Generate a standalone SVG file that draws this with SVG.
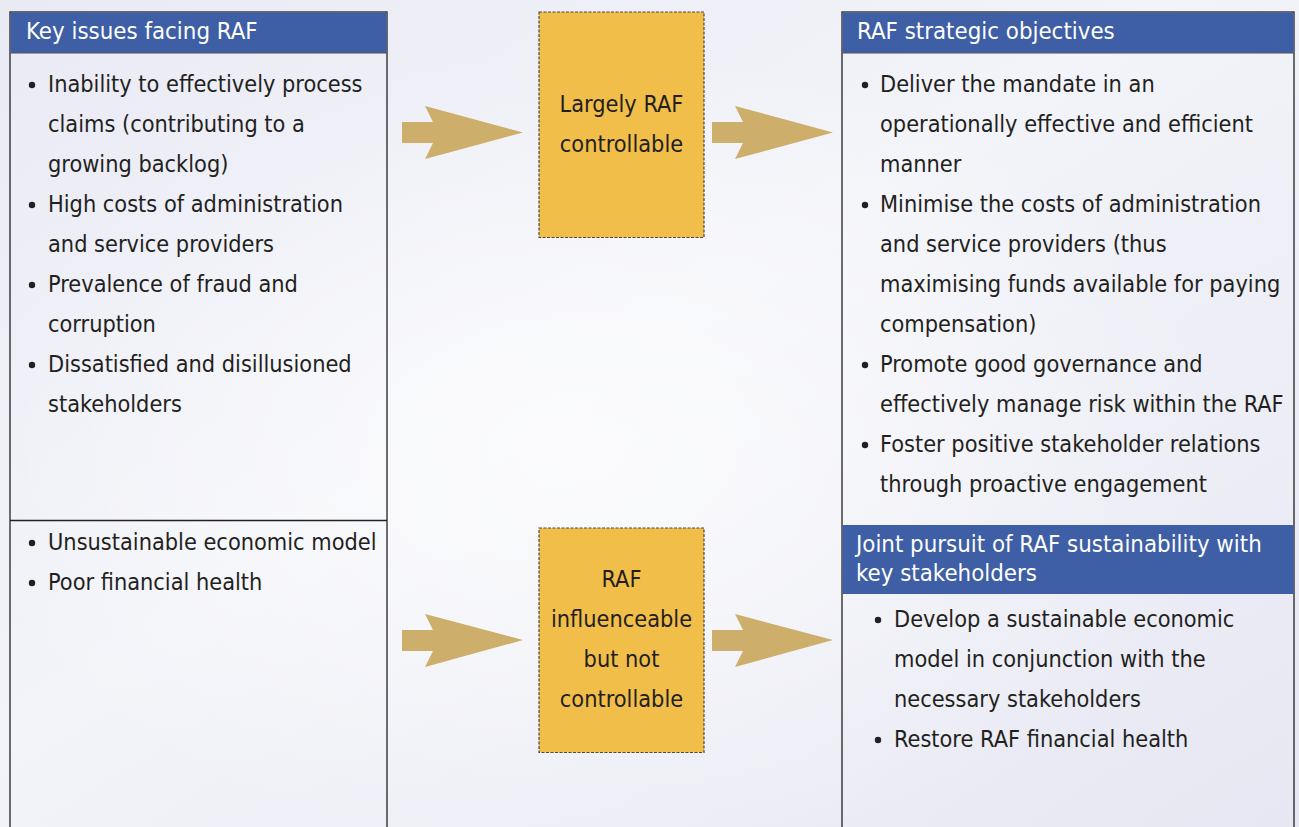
<svg xmlns="http://www.w3.org/2000/svg" width="1299" height="827" viewBox="0 0 1299 827">
  <defs>
    <linearGradient id="bg" x1="0" y1="0" x2="1" y2="1">
      <stop offset="0" stop-color="#e9eaf4"/>
      <stop offset="0.45" stop-color="#f3f4f9"/>
      <stop offset="1" stop-color="#e6e7f2"/>
    </linearGradient>
    <radialGradient id="haze" cx="0.45" cy="0.55" r="0.5">
      <stop offset="0" stop-color="#ffffff" stop-opacity="0.7"/>
      <stop offset="1" stop-color="#ffffff" stop-opacity="0"/>
    </radialGradient>
    <style>
      .txt { font-family: "DejaVu Sans Condensed", "DejaVu Sans", sans-serif; font-stretch: condensed; font-size: 23.3px; fill: #231f20; }
      .hdr { font-family: "DejaVu Sans Condensed", "DejaVu Sans", sans-serif; font-stretch: condensed; font-size: 23.8px; fill: #ffffff; }
      .mid { text-anchor: middle; }
      .panel { fill: none; stroke: #222; stroke-width: 1.3; }
      .band { fill: #3e5ea6; }
      .gate { fill: #f1be4a; stroke: #4a4a4a; stroke-width: 1.2; stroke-dasharray: 3 1.5; }
      .arrow { fill: #cdae6a; }
      .dot { fill: #231f20; }
    </style>
  </defs>

  <!-- backdrop -->
  <rect width="1299" height="827" fill="url(#bg)"/>
  <rect width="1299" height="827" fill="url(#haze)"/>

  <!-- left panel: key issues -->
  <g id="issues">
    <rect x="10" y="12" width="377" height="830" class="panel"/>
    <rect x="10.5" y="12.5" width="376" height="40.5" class="band"/>
    <line x1="10" y1="53" x2="387" y2="53" stroke="#555" stroke-width="1.2"/>
    <text x="26" y="39" class="hdr">Key issues facing RAF</text>
    <circle cx="32" cy="85" r="3.2" class="dot"/>
    <text x="48" y="92" class="txt">Inability to effectively process</text>
    <text x="48" y="132" class="txt">claims (contributing to a</text>
    <text x="48" y="172" class="txt">growing backlog)</text>
    <circle cx="32" cy="205" r="3.2" class="dot"/>
    <text x="48" y="212" class="txt">High costs of administration</text>
    <text x="48" y="252" class="txt">and service providers</text>
    <circle cx="32" cy="285" r="3.2" class="dot"/>
    <text x="48" y="292" class="txt">Prevalence of fraud and</text>
    <text x="48" y="332" class="txt">corruption</text>
    <circle cx="32" cy="365" r="3.2" class="dot"/>
    <text x="48" y="372" class="txt">Dissatisfied and disillusioned</text>
    <text x="48" y="412" class="txt">stakeholders</text>
    <line x1="10" y1="520.5" x2="387" y2="520.5" stroke="#222" stroke-width="1.4"/>
    <circle cx="32" cy="543" r="3.2" class="dot"/>
    <text x="48" y="550" class="txt">Unsustainable economic model</text>
    <circle cx="32" cy="583" r="3.2" class="dot"/>
    <text x="48" y="590" class="txt">Poor financial health</text>
  </g>

  <!-- middle: controllability gates -->
  <g id="controllable">
    <rect x="539" y="12" width="165" height="225.5" class="gate"/>
    <text x="621.5" y="112" class="txt mid">Largely RAF</text>
    <text x="621.5" y="152" class="txt mid">controllable</text>
  </g>
  <g id="influenceable">
    <rect x="539" y="528" width="165" height="224.5" class="gate"/>
    <text x="621.5" y="587" class="txt mid">RAF</text>
    <text x="621.5" y="627" class="txt mid">influenceable</text>
    <text x="621.5" y="667" class="txt mid">but not</text>
    <text x="621.5" y="707" class="txt mid">controllable</text>
  </g>

  <!-- right panel: objectives -->
  <g id="objectives">
    <rect x="842" y="12" width="452" height="830" class="panel"/>
    <rect x="842.5" y="12.5" width="451" height="40.5" class="band"/>
    <line x1="842" y1="53" x2="1294" y2="53" stroke="#555" stroke-width="1.2"/>
    <text x="857" y="39" class="hdr">RAF strategic objectives</text>
    <circle cx="865" cy="85" r="3.2" class="dot"/>
    <text x="880" y="92" class="txt">Deliver the mandate in an</text>
    <text x="880" y="132" class="txt">operationally effective and efficient</text>
    <text x="880" y="172" class="txt">manner</text>
    <circle cx="865" cy="205" r="3.2" class="dot"/>
    <text x="880" y="212" class="txt">Minimise the costs of administration</text>
    <text x="880" y="252" class="txt">and service providers (thus</text>
    <text x="880" y="292" class="txt">maximising funds available for paying</text>
    <text x="880" y="332" class="txt">compensation)</text>
    <circle cx="865" cy="365" r="3.2" class="dot"/>
    <text x="880" y="372" class="txt">Promote good governance and</text>
    <text x="880" y="412" class="txt">effectively manage risk within the RAF</text>
    <circle cx="865" cy="445" r="3.2" class="dot"/>
    <text x="880" y="452" class="txt">Foster positive stakeholder relations</text>
    <text x="880" y="492" class="txt">through proactive engagement</text>
  </g>
  <g id="sustainability">
    <rect x="842.5" y="525" width="451" height="69" class="band"/>
    <text x="856" y="552" class="hdr">Joint pursuit of RAF sustainability with</text>
    <text x="856" y="581" class="hdr">key stakeholders</text>
    <circle cx="878" cy="620" r="3.2" class="dot"/>
    <text x="894" y="627" class="txt">Develop a sustainable economic</text>
    <text x="894" y="667" class="txt">model in conjunction with the</text>
    <text x="894" y="707" class="txt">necessary stakeholders</text>
    <circle cx="878" cy="740" r="3.2" class="dot"/>
    <text x="894" y="747" class="txt">Restore RAF financial health</text>
  </g>

  <!-- connectors: block arrows -->
  <g id="connectors">
    <polygon class="arrow" points="402,122 433,122 425,106 523,132.5 425,159 433,143 402,143"/>
    <polygon class="arrow" points="712,122 743,122 735,106 833,132.5 735,159 743,143 712,143"/>
    <polygon class="arrow" points="402,630 433,630 425,614 523,640 425,667 433,651 402,651"/>
    <polygon class="arrow" points="712,630 743,630 735,614 833,640 735,667 743,651 712,651"/>
  </g>
</svg>
